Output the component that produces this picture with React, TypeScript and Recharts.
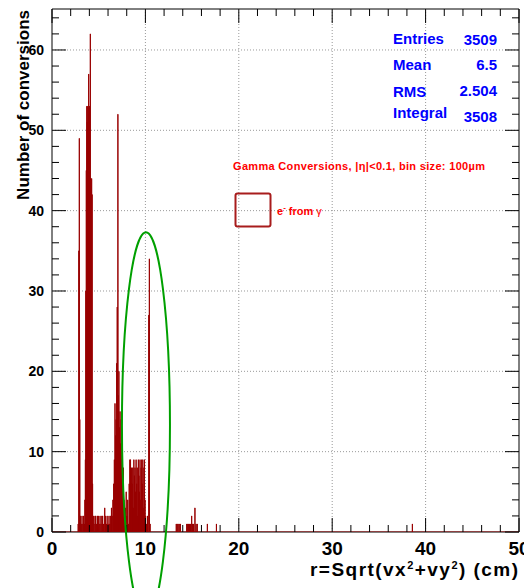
import { LineChart, Line, XAxis, YAxis, ReferenceLine, ReferenceArea } from 'recharts'

// bins: bin centre (cm) and count, grouped by region
const beamPipeR = [2.8, 2.87, 2.92, 2.97, 3.05, 3.13, 3.21, 3.3, 3.38, 3.45]
const beamPipeN = [1, 35, 49, 14, 2, 1, 2, 1, 2, 1]

const layer1R = [3.52, 3.57, 3.62, 3.67, 3.72, 3.77, 3.82, 3.87, 3.92, 3.96, 4.01, 4.06, 4.1, 4.14, 4.19, 4.24, 4.29, 4.34]
const layer1N = [4, 9, 30, 45, 53, 51, 53, 48, 57, 52, 53, 44, 62, 44, 43, 44, 42, 6]

const innerBgR = [4.42, 4.5, 4.6, 4.68, 4.78, 4.86, 4.96, 5.05, 5.14, 5.24, 5.33, 5.42, 5.52, 5.64, 5.72, 5.82, 5.9, 6.0, 6.1, 6.18]
const innerBgN = [2, 1, 2, 2, 1, 2, 2, 1, 2, 1, 2, 2, 1, 3, 2, 1, 2, 1, 2, 1]

const layer2R = [6.28, 6.36, 6.44, 6.52, 6.6, 6.67, 6.74, 6.8, 6.86, 6.92, 6.98, 7.05, 7.1, 7.16, 7.22, 7.28, 7.34, 7.4, 7.46, 7.52, 7.58, 7.64, 7.7, 7.78]
const layer2N = [2, 3, 2, 4, 6, 9, 16, 12, 14, 21, 28, 52, 17, 20, 13, 15, 11, 14, 9, 12, 6, 8, 4, 2]

const gapR = [7.86, 7.94, 8.02, 8.1, 8.18, 8.26, 8.33]
const gapN = [3, 5, 2, 4, 1, 6, 9]

const layer3R = [8.4, 8.46, 8.52, 8.58, 8.64, 8.7, 8.76, 8.82, 8.88, 8.94, 9.0, 9.06, 9.12, 9.18, 9.24, 9.3, 9.36, 9.42, 9.48, 9.54, 9.6, 9.66, 9.72, 9.78, 9.84, 9.9, 9.96, 10.02]
const layer3N = [9, 5, 8, 6, 8, 3, 9, 7, 8, 5, 9, 6, 8, 2, 9, 7, 5, 9, 4, 8, 9, 6, 9, 3, 8, 9, 4, 2]

const spikeR = [10.12, 10.22, 10.36, 10.42, 10.5]
const spikeN = [1, 2, 27, 34, 1]

const outerR = [13.3, 13.4, 13.5, 13.62, 13.75, 14.42, 14.52, 14.62, 14.72, 14.82, 14.95, 15.05, 15.15, 15.3, 15.42, 15.55, 16.63, 17.6, 38.58]
const outerN = [1, 1, 1, 1, 1, 1, 1, 1, 1, 1, 2, 1, 1, 3, 1, 1, 1, 1, 1]

const xTicks = [0, 2, 4, 6, 8, 10, 12, 14, 16, 18, 20, 22, 24, 26, 28, 30, 32, 34, 36, 38, 40, 42, 44, 46, 48, 50]
const yTicks = [0, 2, 4, 6, 8, 10, 12, 14, 16, 18, 20, 22, 24, 26, 28, 30, 32, 34, 36, 38, 40, 42, 44, 46, 48, 50, 52, 54, 56, 58, 60, 62, 64]
const xGrid = [10, 20, 30, 40]
const yGrid = [10, 20, 30, 40, 50, 60]

const statLabels = ['Entries', 'Mean', 'RMS', 'Integral']
const statValues = ['3509', '6.5', '2.504', '3508']

// hand-drawn green ellipse, in data units
const ringCenter = { r: 10.06, n: 13.3 }
const ringRadius = { r: 2.57, n: 24 }

const W = 524
const H = 588
const X_MAX = 50
const Y_MAX = 65.1
const PLOT_L = 52
const PLOT_R = 519
const PLOT_T = 9
const PLOT_B = 532
const FONT = '"Liberation Sans", Arial, Helvetica, sans-serif'
const HIST = '#990000'

const groups: [number[], number[]][] = [
  [beamPipeR, beamPipeN], [layer1R, layer1N], [innerBgR, innerBgN], [layer2R, layer2N],
  [gapR, gapN], [layer3R, layer3N], [spikeR, spikeN], [outerR, outerN],
]

const bins = groups
  .flatMap(([rs, ns]) => rs.map((r, i) => ({ r, n: ns[i] })))
  .sort((a, b) => a.r - b.r)

const data: { r: number; n: number }[] = [{ r: 0, n: 0 }]
bins.forEach((b) => {
  data.push({ r: b.r, n: b.n })
  data.push({ r: b.r + 0.01, n: 0 })
})
data.push({ r: X_MAX, n: 0 })

const px = (r: number) => PLOT_L + (r / X_MAX) * (PLOT_R - PLOT_L)
const py = (n: number) => PLOT_B - (n / Y_MAX) * (PLOT_B - PLOT_T)

const YTick = (props: any) => {
  const { y, payload } = props
  const v = payload.value
  const major = v % 10 === 0
  const len = major ? 14 : 7
  return (
    <g>
      <line x1={PLOT_L} x2={PLOT_L + len} y1={y} y2={y} stroke="#000" />
      <line x1={PLOT_R} x2={PLOT_R - len} y1={y} y2={y} stroke="#000" />
      {major && (
        <text x={44} y={y + 5} textAnchor="end" fontSize={14} fontWeight="bold" fontFamily={FONT} fill="#000">
          {v}
        </text>
      )}
    </g>
  )
}

const XTick = (props: any) => {
  const { x, payload } = props
  const v = payload.value
  const major = v % 10 === 0
  const len = major ? 14 : 7
  return (
    <g>
      <line x1={x} x2={x} y1={PLOT_B} y2={PLOT_B - len} stroke="#000" />
      <line x1={x} x2={x} y1={PLOT_T} y2={PLOT_T + len} stroke="#000" />
      {major && (
        <text x={x} y={555} textAnchor="middle" fontSize={19} fontWeight="bold" fontFamily={FONT} fill="#000">
          {v}
        </text>
      )}
    </g>
  )
}

export default function App() {
  return (
    <div style={{ position: 'absolute', left: 0, top: 0, width: W, height: H, background: '#fff' }}>
      <LineChart width={W} height={H} data={data} margin={{ top: PLOT_T, right: W - PLOT_R, left: 0, bottom: 0 }}>
        <XAxis
          dataKey="r"
          type="number"
          domain={[0, X_MAX]}
          ticks={xTicks}
          interval={0}
          height={H - PLOT_B}
          axisLine={false}
          tickLine={false}
          tick={XTick}
          allowDataOverflow
        />
        <YAxis
          type="number"
          domain={[0, Y_MAX]}
          ticks={yTicks}
          interval={0}
          width={PLOT_L}
          axisLine={false}
          tickLine={false}
          tick={YTick}
          allowDataOverflow
        />
        {xGrid.map((v) => (
          <ReferenceLine key={`gx${v}`} x={v} stroke="#999" strokeDasharray="1 2" />
        ))}
        {yGrid.map((v) => (
          <ReferenceLine key={`gy${v}`} y={v} stroke="#999" strokeDasharray="1 2" />
        ))}
        <Line
          type="stepAfter"
          dataKey="n"
          stroke={HIST}
          strokeWidth={1}
          dot={false}
          activeDot={false}
          isAnimationActive={false}
        />
        <ReferenceArea x1={0} x2={X_MAX} y1={0} y2={Y_MAX} fill="none" fillOpacity={0} stroke="#000" strokeWidth={1} />
      </LineChart>

      <svg width={W} height={H} style={{ position: 'absolute', left: 0, top: 0, pointerEvents: 'none' }} fontFamily={FONT}>
        <text transform="translate(28.5,10) rotate(-90)" textAnchor="end" fontSize={17} fontWeight="bold" fill="#000">
          Number of conversions
        </text>
        <text x={518} y={576} textAnchor="end" fontSize={19} fontWeight="bold" fill="#000" textLength={208} lengthAdjust="spacing">
          r=Sqrt(vx<tspan dy={-7} fontSize={11}>2</tspan>
          <tspan dy={7}>+vy</tspan>
          <tspan dy={-7} fontSize={11}>2</tspan>
          <tspan dy={7}>) (cm)</tspan>
        </text>

        {statLabels.map((s, i) => (
          <text key={s} x={393} y={[44, 70, 96.5, 117.5][i]} fontSize={15} fontWeight="bold" fill="#0000ff">
            {s}
          </text>
        ))}
        {statValues.map((s, i) => (
          <text key={`v${i}`} x={497} y={[45, 70, 96, 121.5][i]} textAnchor="end" fontSize={15} fontWeight="bold" fill="#0000ff">
            {s}
          </text>
        ))}

        <text x={233} y={169.5} fontSize={11} fontWeight="bold" fill="#ff0000" textLength={252} lengthAdjust="spacing">
          Gamma Conversions, |η|&lt;0.1, bin size: 100µm
        </text>
        <rect x={235.5} y={193.5} width={35} height={33} rx={2} fill="none" stroke="#a81c1c" strokeWidth={2} />
        <text x={277} y={215} fontSize={11} fontWeight="bold" fill="#ff0000">
          e<tspan dy={-5} fontSize={8}>-</tspan>
          <tspan dy={5}> from </tspan>
          <tspan fontWeight="normal">γ</tspan>
        </text>

        <ellipse
          cx={px(ringCenter.r)}
          cy={py(ringCenter.n)}
          rx={px(ringCenter.r + ringRadius.r) - px(ringCenter.r)}
          ry={py(ringCenter.n) - py(ringCenter.n + ringRadius.n)}
          fill="none"
          stroke="#00a000"
          strokeWidth={2}
        />
      </svg>
    </div>
  )
}
